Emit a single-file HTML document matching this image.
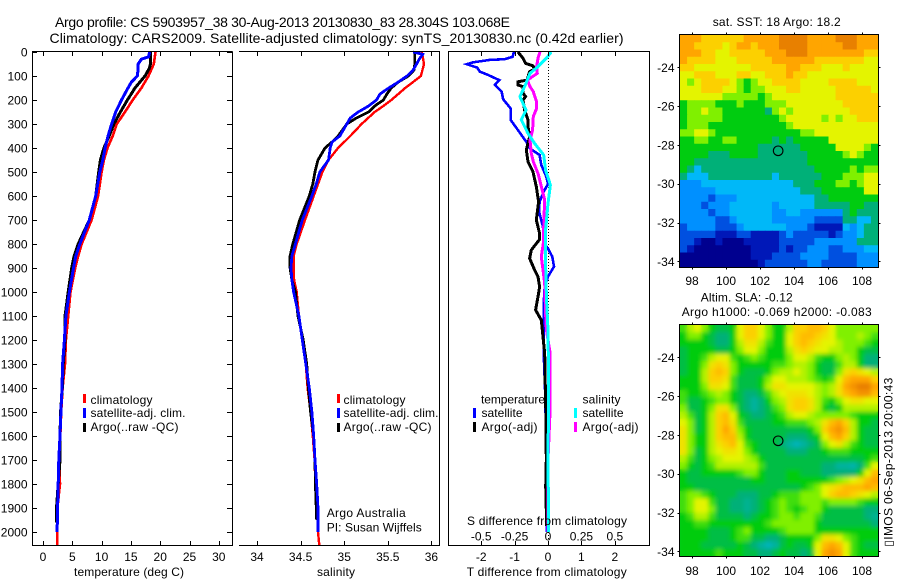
<!DOCTYPE html>
<html lang="en">
<head>
<meta charset="utf-8">
<title>Argo profile 5903957_38</title>
<style>
html,body{margin:0;padding:0;background:#fff;width:900px;height:580px;overflow:hidden}
svg{display:block}
text{font-family:"Liberation Sans",Arial,sans-serif;font-size:12px;fill:#000}
.t{font-size:14px}
.ln{fill:none;stroke-linejoin:miter;shape-rendering:crispEdges}
.ax{stroke:#000;stroke-width:1;fill:none;shape-rendering:crispEdges}
</style>
</head>
<body>
<svg id="fig" width="900" height="580" viewBox="0 0 900 580" xmlns="http://www.w3.org/2000/svg">
  <rect width="900" height="580" fill="#fff"/>
  <text class="t" x="55" y="27" textLength="455" lengthAdjust="spacing">Argo profile: CS 5903957_38 30-Aug-2013 20130830_83 28.304S 103.068E</text>
  <text class="t" x="49.5" y="43" textLength="574" lengthAdjust="spacing">Climatology: CARS2009. Satellite-adjusted climatology: synTS_20130830.nc (0.42d earlier)</text>

  <defs>
    <clipPath id="clipSst"><rect x="680" y="35" width="198" height="232"/></clipPath>
    <clipPath id="clipSla"><rect x="680" y="325" width="198" height="231"/></clipPath>
    <filter id="soft" x="-5%" y="-5%" width="110%" height="110%"><feGaussianBlur stdDeviation="2.2"/></filter>
  </defs>

  <g id="p1"></g>
  <g id="p2"></g>
  <g id="p3"></g>
  <g id="m1"></g>
  <g id="m2"></g>

  <!-- temperature panel labels -->
  <text x="74" y="576" textLength="110" lengthAdjust="spacing">temperature (deg C)</text>
  <rect x="83" y="394" width="3" height="9" fill="#f00"/>
  <rect x="83" y="408" width="3" height="10" fill="#00f"/>
  <rect x="83" y="423" width="3" height="9" fill="#000"/>
  <text x="90.5" y="404" textLength="62" lengthAdjust="spacing">climatology</text>
  <text x="90.5" y="417" textLength="95" lengthAdjust="spacing">satellite-adj. clim.</text>
  <text x="90.5" y="431" textLength="88" lengthAdjust="spacing">Argo(..raw -QC)</text>

  <!-- salinity panel labels -->
  <text x="317" y="576" textLength="38" lengthAdjust="spacing">salinity</text>
  <rect x="337" y="394" width="3" height="9" fill="#f00"/>
  <rect x="337" y="408" width="3" height="10" fill="#00f"/>
  <rect x="337" y="423" width="3" height="9" fill="#000"/>
  <text x="343.5" y="404" textLength="62" lengthAdjust="spacing">climatology</text>
  <text x="343.5" y="417" textLength="95" lengthAdjust="spacing">satellite-adj. clim.</text>
  <text x="343.5" y="431" textLength="88" lengthAdjust="spacing">Argo(..raw -QC)</text>
  <text x="326.7" y="517" textLength="79" lengthAdjust="spacing">Argo Australia</text>
  <text x="326.7" y="531.5" textLength="95" lengthAdjust="spacing">PI: Susan Wijffels</text>

  <!-- difference panel labels -->
  <text x="481" y="403.5" textLength="64" lengthAdjust="spacing">temperature</text>
  <text x="582.5" y="403.5" textLength="38" lengthAdjust="spacing">salinity</text>
  <rect x="473" y="408" width="3" height="10" fill="#00f"/>
  <rect x="473" y="422" width="3" height="10" fill="#000"/>
  <rect x="574" y="408" width="3" height="10" fill="#0ff"/>
  <rect x="574" y="422" width="3" height="10" fill="#f0f"/>
  <text x="481.5" y="417" textLength="41" lengthAdjust="spacing">satellite</text>
  <text x="481.5" y="431" textLength="56" lengthAdjust="spacing">Argo(-adj)</text>
  <text x="582.5" y="417" textLength="41" lengthAdjust="spacing">satellite</text>
  <text x="582.5" y="431" textLength="56" lengthAdjust="spacing">Argo(-adj)</text>
  <text x="467" y="525" textLength="160" lengthAdjust="spacing">S difference from climatology</text>
  <text x="466.7" y="576" textLength="160" lengthAdjust="spacing">T difference from climatology</text>

  <!-- map labels -->
  <text x="712.7" y="26" textLength="128" lengthAdjust="spacing">sat. SST: 18 Argo: 18.2</text>
  <text x="700.7" y="301.5" textLength="92" lengthAdjust="spacing">Altim. SLA: -0.12</text>
  <text x="681.7" y="316" textLength="190" lengthAdjust="spacing">Argo h1000: -0.069 h2000: -0.083</text>
  <text transform="translate(892.5,546.7) rotate(-90)" x="0" y="0" textLength="169" lengthAdjust="spacing">▯IMOS 06-Sep-2013 20:00:43</text>
</svg>

<script>
// ---------- profile data: temperature (deg C) ----------
const tempClimDepth = [0,50,100,150,200,250,300,350,400,450,500,600,700,800,850,900,1000,1100,1200,1300,1400,1500,1600,1700,1800,1900,2000,2055];
const tempClimValues = [19.2,18.9,18.0,16.8,15.3,14.0,12.6,11.9,11.0,10.4,10.0,9.4,8.3,6.6,6.0,5.5,4.7,4.3,3.9,3.75,3.35,3.1,2.95,2.8,2.9,2.45,2.45,2.45];
const tempSatDepth = [0,20,30,50,70,100,125,150,200,250,300,350,400,450,500,600,700,800,850,900,1000,1100,1200,1300,1400,1500,1600,1700,1800,1900,2000];
const tempSatValues = [18.2,18.0,16.8,16.25,16.25,16.1,15.1,14.5,13.4,12.4,11.7,11.1,10.6,10.2,9.7,9.0,7.9,6.3,5.6,5.2,4.5,3.9,3.65,3.35,3.25,3.05,2.9,2.7,2.6,2.5,2.4];
const tempArgoDepth = [0,50,70,100,150,200,250,300,350,400,450,500,600,700,800,850,900,1000,1100,1200,1300,1400,1500,1600,1700,1800,1900,1960];
const tempArgoValues = [18.35,18.35,18.1,17.4,15.7,14.4,13.2,12.1,11.3,10.4,9.8,9.5,9.0,7.9,6.0,5.3,4.9,4.3,3.75,3.75,3.45,3.3,3.0,2.9,2.9,2.6,2.3,2.3];

// ---------- profile data: salinity ----------
const salClimDepth = [0,20,50,100,125,150,175,200,225,250,300,350,400,450,500,600,700,800,850,900,950,1000,1100,1200,1300,1400,1500,1600,1700,1800,1900,2000,2055];
const salClimValues = [35.89,35.90,35.915,35.88,35.79,35.70,35.62,35.54,35.45,35.35,35.2,35.07,34.93,34.82,34.75,34.65,34.55,34.455,34.42,34.42,34.425,34.455,34.48,34.52,34.56,34.58,34.615,34.64,34.66,34.67,34.69,34.70,34.715];
const salSatDepth = [0,5,10,30,50,75,100,125,150,175,200,225,250,275,300,350,375,400,450,500,550,600,700,800,850,900,950,1000,1100,1200,1300,1400,1500,1600,1700,1800,1900,2000];
const salSatValues = [35.79,35.85,35.90,35.86,35.83,35.79,35.72,35.62,35.51,35.41,35.37,35.28,35.16,35.07,35.03,34.95,34.86,34.84,34.82,34.72,34.68,34.63,34.52,34.44,34.40,34.39,34.40,34.42,34.48,34.52,34.56,34.60,34.63,34.65,34.665,34.685,34.70,34.70];
const salArgoDepth = [0,50,75,100,125,150,175,200,225,250,275,300,350,375,400,450,500,550,600,700,800,850,900,950,1000,1100,1200,1300,1400,1500,1600,1700,1800,1950];
const salArgoValues = [35.81,35.81,35.80,35.735,35.62,35.54,35.49,35.45,35.35,35.28,35.14,35.03,34.93,34.86,34.78,34.70,34.665,34.64,34.60,34.49,34.41,34.38,34.38,34.40,34.44,34.47,34.53,34.57,34.59,34.615,34.65,34.665,34.67,34.685];

// ---------- profile differences ----------
const dTSatDepth = [0,20,30,33,43,51,65,82,96,117,137,165,197,235,283,325,374,401,429,471,519,550,582,624,665,728,797,819,853,894,936,978,1047,1117,1256,1395,1533,1670,1810,2000];
const dTSatValues = [-1.02,-1.06,-1.30,-1.74,-2.24,-2.43,-2.12,-2.04,-1.79,-1.46,-1.59,-1.39,-1.34,-1.12,-1.12,-0.90,-0.65,-0.55,-0.25,-0.20,-0.05,0,-0.13,-0.25,-0.27,-0.15,-0.13,0,0.13,0.18,0,-0.10,-0.13,-0.13,-0.13,-0.09,-0.07,-0.04,-0.05,-0.03];
const dTArgoDepth = [0,26,47,58,72,82,117,124,137,144,172,186,200,242,283,311,353,408,457,499,561,624,700,756,781,825,860,908,936,978,1006,1075,1117,1158,1256,1395,1533,1700,1810,1975];
const dTArgoValues = [-0.90,-0.75,-0.67,-0.45,-0.40,-0.55,-0.63,-0.90,-0.90,-0.75,-0.75,-0.67,-0.75,-0.70,-0.60,-0.60,-0.55,-0.65,-0.60,-0.45,-0.35,-0.28,-0.35,-0.25,-0.25,-0.50,-0.55,-0.40,-0.30,-0.25,-0.28,-0.37,-0.20,-0.17,-0.10,-0.08,-0.06,-0.05,-0.07,-0.04];
const dSArgoDepth = [0,26,61,89,117,144,165,207,235,269,325,367,422,457,506,561,617,686,797,853,964,1089,1158,1250,1500,1700,2000];
const dSArgoValues = [-0.06,-0.075,-0.085,-0.08,-0.155,-0.135,-0.11,-0.085,-0.085,-0.11,-0.115,-0.135,-0.125,-0.11,-0.075,-0.05,-0.025,-0.03,-0.035,-0.05,-0.025,-0.018,-0.012,0.015,0.015,0,0];
const dSSatDepth = [0,26,61,89,144,186,242,283,339,381,429,492,554,631,742,881,1019,1158,1400,1700,2000];
const dSSatValues = [0.025,-0.012,-0.075,-0.135,-0.175,-0.21,-0.165,-0.2,-0.15,-0.1,-0.032,-0.018,0.018,0,-0.018,-0.018,-0.012,0,0.005,0,0.005];

// ---------- tick labels ----------
const depthTicks = [0,100,200,300,400,500,600,700,800,900,1000,1100,1200,1300,1400,1500,1600,1700,1800,1900,2000];
const tempTicks = [0,5,10,15,20,25,30];
const salTicks = [34,34.5,35,35.5,36];
const dTTicks = [-2,-1,0,1,2];
const dSTicks = [-0.5,-0.25,0,0.25,0.5];
const dSTickLabels = ["-0.5","-0.25","0","0.25","0.5"];
const lonTicks = [98,100,102,104,106,108];
const latTicks = [-24,-26,-28,-30,-32,-34];

// ---------- map positions ----------
const floatLon = [103.068];
const floatLat = [-28.304];

// ---------- SST map levels (colour-class units) ----------
const sstGrid = [
[10,10,10,9,9,9,9,9,9,10,10,10,10,10,11,11,11,11,10,10,10,10,11,11,11,10,10,10],
[10,10,9,9,9,9,8,9,10,10,9,10,10,10,11,11,11,11,10,10,10,10,10,11,11,10,10,10],
[10,10,10,9,9,8,8,9,9,9,9,9,10,10,10,11,11,11,10,10,10,10,10,10,10,10,9,9],
[10,9,9,9,9,8,8,8,9,9,9,9,9,10,10,10,10,10,10,9,9,9,9,9,9,9,8,8],
[9,9,8,8,8,8,8,8,8,8,9,9,9,9,9,10,10,9,9,9,8,8,8,9,8,8,8,8],
[8,8,9,9,9,8,8,8,9,9,8,8,9,9,9,10,9,9,8,8,8,8,8,8,8,8,8,8],
[8,7,8,9,9,9,9,8,7,6,7,8,8,9,9,9,9,8,8,8,8,9,9,9,9,8,8,8],
[8,8,8,9,9,9,8,8,7,6,7,7,8,8,8,9,9,8,8,8,8,8,9,9,9,9,9,8],
[8,8,8,8,8,8,7,7,7,7,7,6,7,8,8,8,8,8,8,8,8,8,9,9,9,9,9,9],
[6,7,7,7,7,6,6,6,7,6,6,6,7,7,7,8,8,8,8,8,8,8,8,9,9,9,9,9],
[6,7,7,8,7,7,6,6,6,6,6,6,5,7,8,7,8,8,8,8,8,8,8,8,9,9,9,9],
[6,7,7,7,7,7,6,6,6,6,6,6,6,6,7,8,8,8,8,8,7,8,7,8,8,9,9,9],
[6,7,7,7,6,6,6,6,6,6,6,6,6,6,6,7,8,8,8,8,8,8,8,8,8,8,8,8],
[7,7,8,8,7,6,6,6,6,6,6,6,6,6,6,6,6,7,7,8,8,8,8,8,8,8,8,8],
[6,6,7,7,6,6,7,7,6,6,6,6,6,5,6,5,6,6,6,6,6,8,8,8,8,8,8,8],
[6,6,6,6,6,6,6,6,6,6,6,5,5,5,5,5,5,6,6,6,6,6,8,8,8,8,7,6],
[6,6,6,6,5,5,5,6,6,6,6,5,5,5,5,5,5,5,6,6,6,6,6,7,8,7,6,6],
[6,6,5,5,5,5,5,5,5,5,5,5,5,5,5,5,5,5,6,6,6,6,6,6,6,6,6,6],
[6,5,4,5,5,5,5,5,5,5,5,5,5,5,5,5,5,5,5,6,6,6,6,6,7,6,7,7],
[5,4,4,4,5,5,5,5,5,5,5,5,5,4,5,5,5,5,5,5,6,6,6,7,7,7,8,8],
[3,3,3,4,4,4,4,4,4,4,4,4,4,4,4,4,5,5,5,6,6,6,7,7,6,7,8,8],
[3,3,3,3,3,4,4,4,4,4,4,4,4,4,4,4,4,5,5,5,6,6,6,6,6,6,8,8],
[3,3,3,3,2,3,3,3,4,4,4,4,4,4,4,4,4,4,4,5,5,6,6,6,6,6,6,6],
[3,3,3,2,3,3,3,4,4,4,4,4,4,3,4,4,4,4,4,5,5,5,5,5,6,6,5,5],
[3,3,3,3,2,3,3,4,4,4,4,4,4,3,3,4,4,3,3,3,3,3,3,5,6,5,5,5],
[3,3,3,3,3,2,2,3,4,4,4,4,4,3,3,3,3,3,3,2,2,2,2,5,5,4,4,5],
[2,3,3,3,3,2,2,2,3,4,4,4,4,4,4,3,3,3,2,1,1,1,1,4,3,4,5,5],
[2,2,2,2,2,1,1,1,2,2,1,1,1,1,2,3,2,2,2,2,2,1,2,3,3,4,5,5],
[2,2,1,0,0,1,0,0,0,1,1,1,1,1,2,2,2,2,2,3,3,3,3,3,3,5,5,5],
[2,1,0,0,0,0,0,0,0,0,1,1,1,1,2,1,2,2,3,3,3,2,2,3,3,3,4,4],
[0,0,0,0,0,0,0,0,0,0,1,1,1,2,2,2,2,3,3,3,3,2,2,2,2,3,3,3],
[0,0,0,0,0,0,0,0,0,0,0,1,2,2,2,2,2,2,3,3,2,2,2,2,2,3,3,3]
];

// ---------- SLA map levels (colour-class units) ----------
const slaGrid = [
[6.5,7.5,8,7,6,5.5,5.5,6,8,9,9,8,7,6,6,7.5,9,9,9.5,9.5,9,8,7,7,7,7,7,7],
[6,7,7,6,5.5,5,5,6,8,9,9,8,7,6,6,8,9,9.5,9.5,9,8.5,8,7,7,7,7.5,7,6.5],
[6,6,6,6,5.5,5,5,6,7.5,8.5,8.5,7.5,6.5,6,6,8,9,9.5,9,8.5,8,8,7.5,7,7,7,6.5,6],
[5.5,6,6,6,6,5.5,5.5,6,7,8,8,7,6,6,6,7.5,8.5,9,8.5,8,8,7.5,7.5,7,7,6,5.5,5.5],
[5.5,6,6,6.5,7.5,8,8,6.5,6,6.5,7,6.5,6,6,6,7,8,8,7.5,6.5,6,6,7,7.5,7,6,5,5],
[5.5,6,6,7,8.5,9,8.5,7,6,6,6,6,6,6.5,6.5,7,7.5,7.5,7,6,5.5,5.5,6.5,7.5,7.5,6,5,5],
[5.5,6,6,7.5,9,9.5,9,7,6,5.5,5.5,5.5,6,7,7.5,7.5,8,7.5,7,6,5.5,5.5,7,8.5,9,8.5,8,7.5],
[6,6,6,7.5,9,9,8.5,6.5,5.5,5.5,5.5,6,7,8,8,7.5,7.5,7.5,7,6.5,6,6.5,8,9.5,10,10,10,9],
[6,6,6,7,8.5,8.5,8,6.5,5.5,5.5,5.5,6,7.5,8.5,8.5,8,8,8,8,7.5,7,7.5,8.5,10,10.5,11,11,10],
[6.5,6,6,6.5,7,7.5,7,6,5.5,5,5,5.5,6.5,7.5,8,8.5,8.5,8.5,8,7.5,7,7.5,8.5,9.5,10,10.5,10.5,9.5],
[6.5,5.5,5.5,6,6.5,7,7,6,5.5,5,4.7,5,6,7,7.5,8.5,9,9,8.5,7.5,6.5,6,7,8,8.5,8.5,8,8],
[7,5.5,5.5,6,7,8.5,8.5,7,5.5,5,4.7,5,5.5,6.5,7,8.5,9,9,8.5,7.5,6,5.5,6,7.5,7.5,7.5,7.5,7.5],
[7.5,6.5,5.5,6,7.5,9,9.5,8,6,5.5,5,5,5.5,6,6.5,7.5,8,8,7.5,7,7,7,7,7,6.5,6,6,6],
[8,7,5.5,6,7.5,9,9.5,8.5,6.5,5.5,5.5,5.5,5.5,6,6,6.5,6.5,6.5,7,7.5,8.5,9.5,10,9,7.5,6,6,5.5],
[8.5,7,5.5,6,7.5,9,10,9,7,6,5.5,5.5,5.5,5.5,5.5,5.5,5.5,5.5,6,7,9,10,10.5,9.5,7.5,6,5.5,5.5],
[8.5,7,6,6,7.5,9,9.5,9.5,7.5,6,5.5,5.5,5.5,5.5,5.5,5,5,5,5.5,6,8,9.5,10,9,7.5,6,5.5,5.5],
[8.5,7,6,6,7.5,8.5,9,9.5,8,6.5,6,5.5,5.5,5.5,5,4.7,4.5,4.7,5,5.5,7,8,8.5,7.5,6.5,6,5.5,5.5],
[8.5,7,5.5,6,7.5,8,8.5,8.5,8,7,6,5.5,5.5,5.5,5.5,5,5,5,5.5,5.5,6,6.5,6.5,6.5,6,6,6,6],
[7.5,6.5,5.5,6,7,7.5,8,8,8,7.5,7,6,5.5,5.5,5.5,5.5,5.5,5.5,5.5,5.5,5.5,5.5,5.5,5.5,5.5,5.5,6,6.5],
[7,6,5.5,6,6.5,7.5,7.5,7.5,7.5,7.5,7.5,6.5,5.5,5.5,5.5,5.5,5.5,5.5,5.5,5.5,5,5,4.7,4.7,4.6,5,6.5,8],
[6,5.5,5.5,6,6,6,6,6,6.5,7,7,6,5.5,5.5,5.5,6,6,5.5,5.5,5.5,5,5,5,5,5,6,8,9.5],
[6,5.5,5.5,5.5,5.5,5.5,5.5,5.5,5.5,5.5,6,6,5.5,5.5,5.5,6,6,6,6,6,6,6.5,7,7.5,8,8.5,9.5,10],
[6,6,5.5,5.5,5.5,5.5,5.5,5.5,5.5,5.5,5.5,5.5,5.5,5.5,5.5,5.5,5.5,6,6.5,7,8,8.5,9,9.5,9.5,9.5,10,9.5],
[6.5,7,7,6.5,6,5.5,5.5,5.5,5,5,5,5.5,5.5,6,6.5,6.5,6.5,7,7,7,8,9,9.5,9.5,9,8.5,8,7.5],
[6.5,7,8,8,6.5,5.5,5.5,5,5,4.8,5,5.5,6,6.5,7,6.5,6.5,7,7,7,6.5,7,7,7,7,6.5,6,6],
[6.5,7,8,8,7,5.5,5.5,5,5,4.8,5,5.5,6,6.5,7,6.5,6,6.5,7,7,6,5.5,5.5,5.5,5.5,5.5,5,5],
[6,6.5,7.5,7.5,6.5,5.5,5.5,5.5,5.5,5,5.5,6,6,6.5,7,7,6.5,7,7,6.5,5.5,5.5,5.5,5.5,5.5,5.5,5,4.8],
[6,6,6.5,6.5,6,6,6,6,6,6,6,6,6.5,7,7,7,7,7,7,6,5.5,5.5,5.5,5.5,5.5,5.5,5.5,5],
[6,6,6,6,5.5,5.5,5.5,6,6.5,7,6,6,6,6,6.5,7,7,7,7,6,6,6,6,6,6,6,6,6],
[6,6,6,6,5.5,5.5,5.5,6,6.5,6.5,5.5,5.5,5,5,5.5,6,6,6,6,7,8.5,8.5,8,7,6.5,6,6,6],
[6,6,6,5.5,5.5,5.5,5.5,5.5,6,5.5,5,4.7,4.5,4.7,5.5,6,5.5,5.5,6,8,9.5,10,9.5,8,6.5,6,5.5,5.5],
[6,6,6,6,6,6.5,6,6,6,5.5,5.5,5,5,5.5,6,5.5,5.5,5,5.5,8,10,10.5,10,8,6.5,6,6,6]
];

// ---------- colour anchors for map levels 0..11 ----------
const levelColours = [[0,0,143],[0,24,184],[0,80,224],[0,144,255],[0,184,248],[0,176,120],[0,204,16],[128,240,0],[228,244,0],[252,208,0],[255,165,0],[232,128,0]];

// ---------- helpers ----------
const NS = 'http://www.w3.org/2000/svg';
function mk(tag, parent, attrs){
  const e = document.createElementNS(NS, tag);
  for (const k in attrs) e.setAttribute(k, attrs[k]);
  parent.appendChild(e);
  return e;
}
function levelColour(v){
  const lo = Math.max(0, Math.min(levelColours.length-1, Math.floor(v)));
  const hi = Math.min(levelColours.length-1, lo+1);
  const f = Math.max(0, Math.min(1, v-lo));
  const c = [0,1,2].map(i => Math.round(levelColours[lo][i]*(1-f)+levelColours[hi][i]*f));
  return 'rgb('+c.join(',')+')';
}

// ---------- axis functions ----------
const PLOT_TOP = 52, PLOT_BOTTOM = 545;
const yDepth = d => PLOT_TOP + d*0.24;
const xTemp = t => 43 + t*5.86;
const xSal = s => 257 + (s-34)*87.2;
const xDT = t => 548 + t*33.4;
const xDS = s => 548 + s*133.6;
const xLon = lon => 692 + (lon-98)*17;
const ySstLat = lat => 67.3 + (-24-lat)*19.4;
const ySlaLat = lat => 357.3 + (-24-lat)*19.4;

function profile(parent, depths, values, xFn, colour, width, name){
  const pts = values.map((v,i) => xFn(v).toFixed(1)+','+yDepth(depths[i]).toFixed(1)).join(' ');
  const line = mk('polyline', parent, {points:pts, class:'ln', stroke:colour, 'stroke-width':width});
  
  
}
function tickLine(parent, x1, y1, x2, y2){
  const l = mk('line', parent, {x1:x1, y1:y1, x2:x2, y2:y2, class:'ax'});
  
  
}
function label(parent, x, y, str, anchor){
  const t = mk('text', parent, {x:x, y:y, 'text-anchor':anchor});
  t.textContent = str;
  
  
}
function axisPath(parent, d, name){
  const p = mk('path', parent, {d:d, class:'ax'});
  
  
}
function topBottomTicks(parent, ticks, xFn){
  ticks.forEach(v => {
    const x = Math.round(xFn(v))+0.5;
    tickLine(parent, x, 52, x, 56);
    tickLine(parent, x, 545, x, 541);
  });
}

// ---------- temperature panel ----------
const p1 = document.getElementById('p1');
profile(p1, tempClimDepth, tempClimValues, xTemp, '#f00', 2.6, 'temperature-climatology-line');
profile(p1, tempArgoDepth, tempArgoValues, xTemp, '#000', 3, 'temperature-argo-line');
profile(p1, tempSatDepth, tempSatValues, xTemp, '#00f', 3, 'temperature-satellite-adj-line');
axisPath(p1, 'M232.5 51.5H32.5V545.5H232.5V51.5', 'temperature-axes-frame');
depthTicks.forEach(d => {
  const y = Math.round(yDepth(d))+0.5;
  tickLine(p1, 32.5, y, 37, y);
  tickLine(p1, 232.5, y, 227, y);
  label(p1, 27.5, yDepth(d)+4.5, String(d), 'end');
});
topBottomTicks(p1, tempTicks, xTemp);
tempTicks.forEach(v => label(p1, xTemp(v), 561, String(v), 'middle'));

// ---------- salinity panel ----------
const p2 = document.getElementById('p2');
profile(p2, salClimDepth, salClimValues, xSal, '#f00', 2.4, 'salinity-climatology-line');
profile(p2, salArgoDepth, salArgoValues, xSal, '#000', 2.8, 'salinity-argo-line');
profile(p2, salSatDepth, salSatValues, xSal, '#00f', 2.8, 'salinity-satellite-adj-line');
axisPath(p2, 'M239 51.5H439.5V545.5H239', 'salinity-axes-frame');
topBottomTicks(p2, salTicks, xSal);
salTicks.forEach(v => label(p2, xSal(v), 561, String(v), 'middle'));

// ---------- difference panel ----------
const p3 = document.getElementById('p3');
const zero = mk('line', p3, {x1:548.5, y1:52, x2:548.5, y2:545, stroke:'#000', 'stroke-width':1, 'stroke-dasharray':'1 2', 'shape-rendering':'crispEdges'});


profile(p3, dTSatDepth, dTSatValues, xDT, '#00f', 2.6, 't-difference-satellite-line');
profile(p3, dTArgoDepth, dTArgoValues, xDT, '#000', 3, 't-difference-argo-line');
profile(p3, dSArgoDepth, dSArgoValues, xDS, '#f0f', 3, 's-difference-argo-line');
profile(p3, dSSatDepth, dSSatValues, xDS, '#0ff', 3, 's-difference-satellite-line');
axisPath(p3, 'M448.5 51.5H649.5V545.5H448.5Z', 'difference-axes-frame');
topBottomTicks(p3, dTTicks, xDT);
dTTicks.forEach(v => label(p3, xDT(v), 561, String(v), 'middle'));
dSTicks.forEach((v,i) => label(p3, xDS(v), 540.5, dSTickLabels[i], 'middle'));

// ---------- maps ----------
function drawCells(parent, grid, left, top, w, h, name){
  const rows = grid.length, cols = grid[0].length;
  grid.forEach((row,r) => row.forEach((v,c) => {
    const x0 = left + c*w/cols, y0 = top + r*h/rows;
    const cell = mk('rect', parent, {x:x0.toFixed(2), y:y0.toFixed(2), width:(w/cols+0.6).toFixed(2), height:(h/rows+0.6).toFixed(2), fill:levelColour(v)});
    
    
  }));
}
function drawMap(root, grid, top, h, yLat, clipId, smooth, labelBase, name){
  const left = 680, w = 198;
  const clip = mk('g', root, {'clip-path':'url(#'+clipId+')'});
  
  
  drawCells(clip, grid, left, top, w, h, name+'-cell');
  if (smooth) {
    const blur = mk('g', clip, {filter:'url(#soft)'});
    
    
    drawCells(blur, grid, left, top, w, h, name+'-smooth-cell');
  }
  axisPath(root, 'M679.5 '+(top-0.5)+'H878.5V'+(top+h+0.5)+'H679.5Z', name+'-frame');
  lonTicks.forEach(lon => {
    const x = Math.round(xLon(lon))+0.5;
    tickLine(root, x, top-2.5, x, top-0.5);
    tickLine(root, x, top+h+0.5, x, top+h+2.5);
    label(root, xLon(lon), labelBase, String(lon), 'middle');
  });
  latTicks.forEach(lat => {
    const y = Math.round(yLat(lat))+0.5;
    tickLine(root, 677.5, y, 679.5, y);
    tickLine(root, 878.5, y, 880.5, y);
    label(root, 674.5, yLat(lat)+4.5, String(lat), 'end');
  });
  const marker = mk('circle', root, {cx:xLon(floatLon[0]), cy:yLat(floatLat[0]), r:4.8, fill:'none', stroke:'#000', 'stroke-width':1.1});
  
  
}
drawMap(document.getElementById('m1'), sstGrid, 35, 232, ySstLat, 'clipSst', false, 285, 'sst');
drawMap(document.getElementById('m2'), slaGrid, 325, 231, ySlaLat, 'clipSla', true, 575, 'sla');
</script>
</body>
</html>
